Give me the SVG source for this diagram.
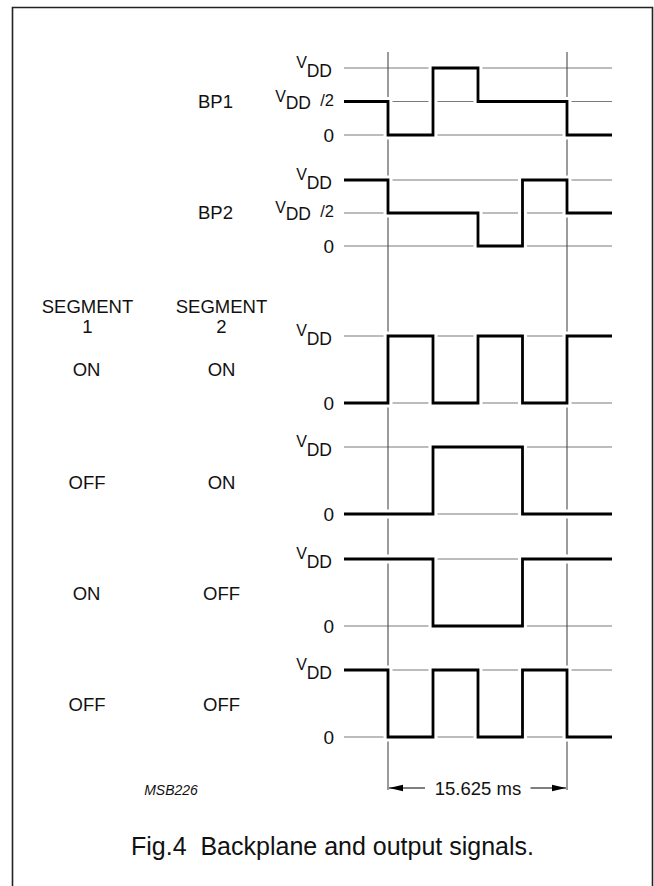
<svg xmlns="http://www.w3.org/2000/svg" width="654" height="886" viewBox="0 0 654 886">
<style>
text{font-family:"Liberation Sans",Arial,Helvetica,sans-serif;fill:#111}
.lbl{font-size:18.5px;text-anchor:middle}
.zero{font-size:19px;text-anchor:end}
.v{font-size:16px;text-anchor:end}
.sl{font-size:16.5px;text-anchor:end}
.dd{font-size:17.5px;text-anchor:end}
.grid{stroke:#7a7a7a;stroke-width:1.2;fill:none}
.vline{stroke:#4a4a4a;stroke-width:1.1;fill:none}
.halo{stroke:#fff;stroke-width:9;fill:none;stroke-linejoin:miter}
.wave{stroke:#000;stroke-width:2.8;fill:none;stroke-linejoin:miter}
.frame{stroke:#222;stroke-width:1.6;fill:none}
</style>
<defs>
<marker id="arr" viewBox="0 0 14 8" refX="14" refY="4" markerWidth="14" markerHeight="8" markerUnits="userSpaceOnUse" orient="auto">
<path d="M0,0.8 L14,4 L0,7.2 Z" fill="#000"/>
</marker>
</defs>
<g id="frame">
<path class="frame" d="M12.5,886 V7.5 H652.5 V886"/>
</g>
<g id="grid">
<path class="grid" d="M344,68H612M344,101.5H612M344,135H612M344,180H612M344,213H612M344,246H612M344,336H612M344,403H612M344,447H612M344,514H612M344,559H612M344,626H612M344,670H612M344,737H612"/>
<path class="vline" d="M388,52V790M567,52V790"/>
</g>
<g id="waveforms">
<path class="halo" d="M344,101.5H388V135H433V68H478V101.5H567V135H612"/>
<path class="halo" d="M344,180H388V213H478V246H522.5V180H567V213H612"/>
<path class="halo" d="M344,403H388V336H433V403H478V336H522.5V403H567V336H612"/>
<path class="halo" d="M344,514H433V447H522.5V514H612"/>
<path class="halo" d="M344,559H433V626H522.5V559H612"/>
<path class="halo" d="M344,670H388V737H433V670H478V737H522.5V670H567V737H612"/>
<path id="bp1" class="wave" d="M344,101.5H388V135H433V68H478V101.5H567V135H612"/>
<path id="bp2" class="wave" d="M344,180H388V213H478V246H522.5V180H567V213H612"/>
<path id="on-on" class="wave" d="M344,403H388V336H433V403H478V336H522.5V403H567V336H612"/>
<path id="off-on" class="wave" d="M344,514H433V447H522.5V514H612"/>
<path id="on-off" class="wave" d="M344,559H433V626H522.5V559H612"/>
<path id="off-off" class="wave" d="M344,670H388V737H433V670H478V737H522.5V670H567V737H612"/>
</g>
<g id="level-labels">
<text class="v" x="307" y="68">V</text><text class="dd" x="332" y="76.5">DD</text>
<text class="v" x="286" y="101.5">V</text><text class="dd" x="311" y="108.5">DD</text><text class="sl" x="334" y="105.5">/2</text>
<text class="zero" x="334" y="142">0</text>
<text class="v" x="307" y="180">V</text><text class="dd" x="332" y="188.5">DD</text>
<text class="v" x="286" y="213">V</text><text class="dd" x="311" y="220">DD</text><text class="sl" x="334" y="217">/2</text>
<text class="zero" x="334" y="253">0</text>
<text class="v" x="307" y="336">V</text><text class="dd" x="332" y="344.5">DD</text>
<text class="zero" x="334" y="410">0</text>
<text class="v" x="307" y="447">V</text><text class="dd" x="332" y="455.5">DD</text>
<text class="zero" x="334" y="521">0</text>
<text class="v" x="307" y="559">V</text><text class="dd" x="332" y="567.5">DD</text>
<text class="zero" x="334" y="633">0</text>
<text class="v" x="307" y="670">V</text><text class="dd" x="332" y="678.5">DD</text>
<text class="zero" x="334" y="744">0</text>
</g>
<g id="signal-labels">
<text class="lbl" x="215.5" y="107.5">BP1</text>
<text class="lbl" x="215.5" y="219">BP2</text>
<text class="lbl" x="87.5" y="313">SEGMENT</text>
<text class="lbl" x="87.5" y="333">1</text>
<text class="lbl" x="221.5" y="313">SEGMENT</text>
<text class="lbl" x="221.5" y="333">2</text>
<text class="lbl" x="86.5" y="376">ON</text>
<text class="lbl" x="221.5" y="376">ON</text>
<text class="lbl" x="87" y="488.5">OFF</text>
<text class="lbl" x="221.5" y="488.5">ON</text>
<text class="lbl" x="86.5" y="599.5">ON</text>
<text class="lbl" x="221.5" y="599.5">OFF</text>
<text class="lbl" x="87" y="711">OFF</text>
<text class="lbl" x="221.5" y="711">OFF</text>
</g>
<g id="dimension">
<path d="M425,788H389" stroke="#000" stroke-width="1.2" fill="none" marker-end="url(#arr)"/>
<path d="M530.5,788H566" stroke="#000" stroke-width="1.2" fill="none" marker-end="url(#arr)"/>
<text class="lbl" x="478" y="794.5">15.625 ms</text>
</g>
<text x="171" y="795" style="font-size:14px;font-style:italic;text-anchor:middle">MSB226</text>
<text x="332.5" y="854.5" xml:space="preserve" style="font-size:25px;text-anchor:middle;white-space:pre">Fig.4  Backplane and output signals.</text>
</svg>
